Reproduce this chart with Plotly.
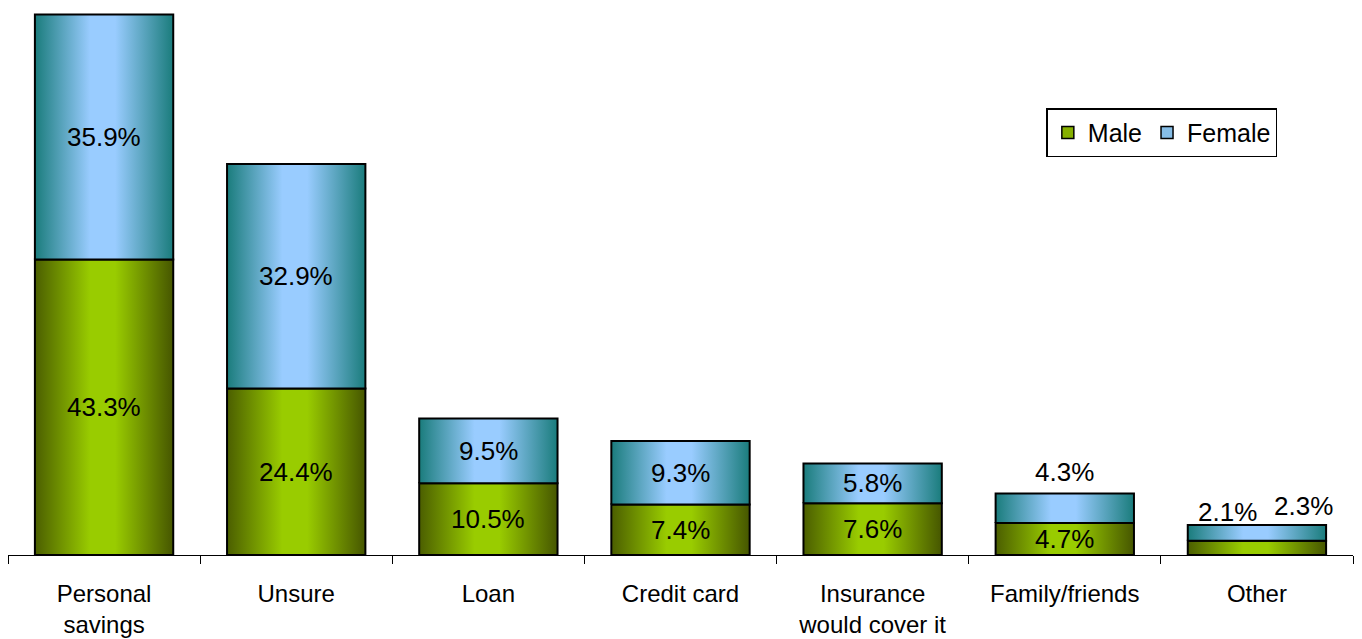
import plotly.graph_objects as go

categories = ["Personal<br>savings", "Unsure", "Loan", "Credit card",
              "Insurance<br>would cover it", "Family/friends", "Other"]
male = [43.3, 24.4, 10.5, 7.4, 7.6, 4.7, 2.1]
female = [35.9, 32.9, 9.5, 9.3, 5.8, 4.3, 2.3]
series_names = ["Male", "Female"]

FONT = "Liberation Sans, Arial, sans-serif"
HALF = 0.36
grads = {
    "Male": [[0, "#4b5e00"], [0.4, "#99cc00"], [0.58, "#99cc00"], [1, "#465600"]],
    "Female": [[0, "#1a7c7c"], [0.4, "#99ccff"], [0.58, "#99ccff"], [1, "#1a7c7c"]],
}
legend_colors = {"Male": "#86b000", "Female": "#86bde6"}

fig = go.Figure()

# legend-only entries (square symbols)
for name in series_names:
    fig.add_trace(go.Bar(x=[-10], y=[0], name=name,
                         marker=dict(color=legend_colors[name],
                                     line=dict(color="black", width=1.5)),
                         hoverinfo="skip", showlegend=True))

annotations = []
for s_idx, (name, vals) in enumerate(zip(series_names, [male, female])):
    for i, v in enumerate(vals):
        base = 0 if s_idx == 0 else male[i]
        xs = [i - HALF, i + HALF, i + HALF, i - HALF, i - HALF]
        ys = [base, base, base + v, base + v, base]
        fig.add_trace(go.Scatter(
            x=xs, y=ys, mode="lines", fill="toself",
            fillgradient=dict(type="horizontal", colorscale=grads[name]),
            line=dict(color="black", width=2),
            name=name, showlegend=False,
            hoverinfo="skip",
        ))
        top = base + v
        label = f"{v:.1f}%"
        if categories[i] == "Family/friends" and name == "Female":
            annotations.append(dict(x=i, y=top, text=label, yanchor="bottom",
                                    yshift=5, showarrow=False))
        elif categories[i] == "Other":
            total = male[i] + female[i]
            if name == "Male":
                annotations.append(dict(x=i, y=total, text=label, yanchor="bottom",
                                        xshift=-29, yshift=-4, showarrow=False))
            else:
                annotations.append(dict(x=i, y=total, text=label, yanchor="bottom",
                                        xshift=47, yshift=2, showarrow=False))
        else:
            annotations.append(dict(x=i, y=base + v / 2, text=label,
                                    showarrow=False))

for a in annotations:
    a["font"] = dict(family=FONT, size=26, color="black")

fig.update_layout(
    width=1362, height=639,
    margin=dict(l=7.5, r=9, t=8.6, b=84),
    paper_bgcolor="white", plot_bgcolor="white",
    font=dict(family=FONT, size=26, color="black"),
    annotations=annotations,
    showlegend=True,
    legend=dict(orientation="h", x=0.772, y=0.818, xanchor="left", yanchor="top",
                bordercolor="black", borderwidth=1.5, bgcolor="white",
                font=dict(family=FONT, size=25, color="black"),
                itemwidth=30, traceorder="normal"),
    xaxis=dict(range=[-0.5, len(categories) - 0.5], automargin=False,
               tickmode="array", tickvals=list(range(len(categories))),
               ticktext=categories, ticks="outside", ticklen=17,
               tickcolor="rgba(0,0,0,0)",
               minor=dict(tickmode="linear", tick0=-0.5, dtick=1, ticks="outside",
                          ticklen=8, tickcolor="black", tickwidth=1),
               showline=True, linecolor="black", linewidth=1,
               showgrid=False, zeroline=False,
               tickfont=dict(family=FONT, size=24, color="black")),
    yaxis=dict(range=[0, 80], visible=False, showgrid=False, zeroline=False,
               automargin=False),
)

fig.write_html("out.html", config={"displayModeBar": False},
               post_script="document.body.style.margin='0';")
